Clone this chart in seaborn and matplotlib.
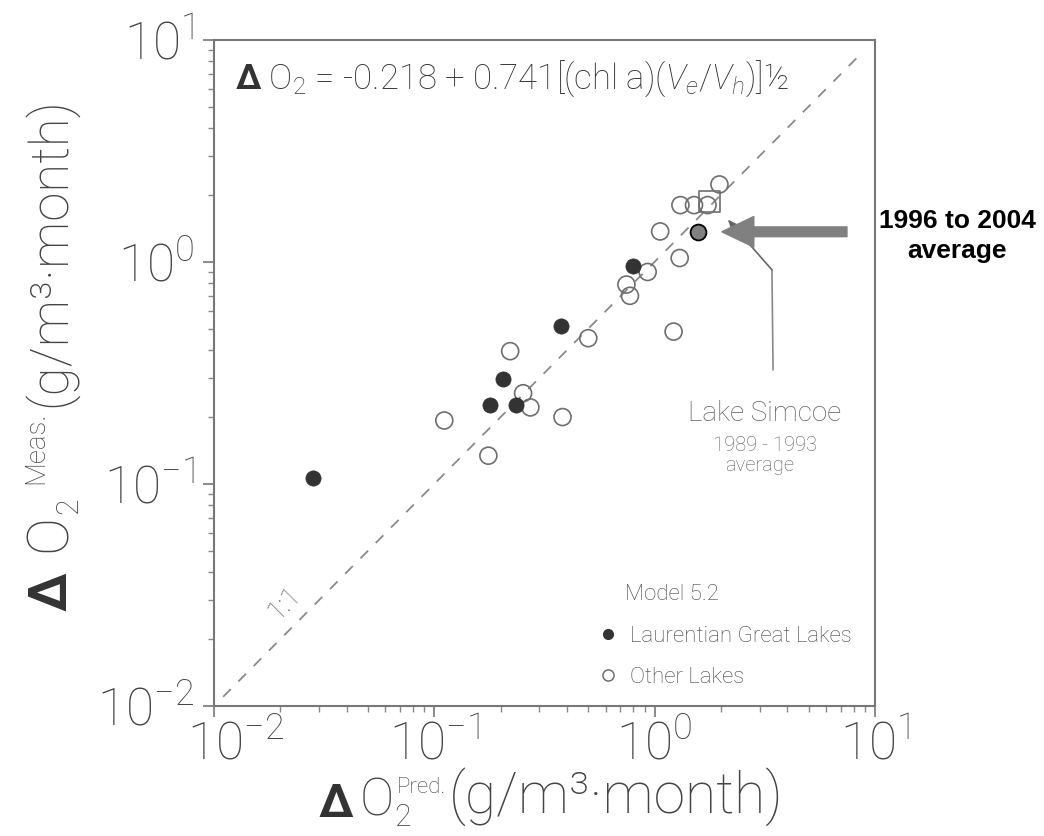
import numpy as np
import pandas as pd
import matplotlib
matplotlib.use('Agg')
import matplotlib.pyplot as plt
import matplotlib.transforms as mtrans
import seaborn as sns
from matplotlib.lines import Line2D
from matplotlib.ticker import FixedLocator, LogLocator

# values (g/m3 per month)
pred_great = [0.028, 0.179, 0.206, 0.236, 0.377, 0.80]
meas_great = [0.106, 0.226, 0.298, 0.226, 0.516, 0.96]

pred_other = [0.111, 0.176, 0.221, 0.253, 0.273, 0.382, 0.50, 0.745, 0.773,
              0.93, 1.06, 1.22, 1.30, 1.31, 1.51, 1.74, 1.97]
meas_other = [0.193, 0.134, 0.396, 0.256, 0.221, 0.200, 0.453, 0.79, 0.703,
              0.90, 1.37, 0.485, 1.04, 1.80, 1.80, 1.80, 2.23]

simcoe_old = [1.77, 1.87]    # 1989 - 1993 average (square)
simcoe_new = [1.58, 1.36]    # 1996 to 2004 average (grey dot)

decades = [0.01, 0.1, 1, 10]
one_to_one = [0.011, 8.7]
eq_text = r'$\mathbf{\Delta}$ O$_2$ = -0.218 + 0.741[(chl a)($V_e$/$V_h$)]½'

# callout path for Lake Simcoe (bottom, elbow, tip) and the big arrow
callout_x = [3.45, 3.41, 2.15]
callout_y = [0.326, 0.92, 1.55]
arrow_tip = (2.02, 1.365)
arrow_tail = (7.47, 1.365)

sns.set_style('ticks')
plt.rcParams['font.family'] = ['Roboto', 'DejaVu Sans']
plt.rcParams['font.weight'] = 'light'
plt.rcParams['mathtext.fontset'] = 'custom'
plt.rcParams['mathtext.rm'] = 'Roboto:light'
plt.rcParams['mathtext.it'] = 'Roboto:italic:light'
plt.rcParams['mathtext.bf'] = 'Roboto:bold'

grey = '#444444'
W, H = 1044, 836
fig = plt.figure(figsize=(W / 100, H / 100), dpi=100)
ax = fig.add_axes([0.205, 0.1555, 0.633, 0.797])

ax.set_xscale('log')
ax.set_yscale('log')
ax.set_xlim(0.01, 10)
ax.set_ylim(0.01, 10)

ax.plot(one_to_one, one_to_one, ls=(0, (6, 6)), color='#8a8a8a', lw=1.3, zorder=1)

great_df = pd.DataFrame({'pred': pred_great, 'meas': meas_great})
other_df = pd.DataFrame({'pred': pred_other, 'meas': meas_other})
sns.scatterplot(data=other_df, x='pred', y='meas', ax=ax, s=150, marker='o',
                facecolor='none', edgecolor='#6e6e6e', linewidth=1.2, zorder=3)
sns.scatterplot(data=great_df, x='pred', y='meas', ax=ax, s=120, marker='o',
                color='#333333', edgecolor='#333333', linewidth=0.5, zorder=3)
ax.scatter([simcoe_old[0]], [simcoe_old[1]], s=230, marker='s', facecolor='none',
           edgecolor='#6e6e6e', linewidth=1.2, zorder=4)
ax.scatter([simcoe_new[0]], [simcoe_new[1]], s=130, marker='o', facecolor='#808080',
           edgecolor='black', linewidth=1.3, zorder=5)
ax.set_xlabel('')
ax.set_ylabel('')

# equation and 1:1 label
ax.text(0.032, 0.972, eq_text, transform=ax.transAxes, fontsize=25, color='#333333',
        va='top', ha='left')
ax.text(0.021, 0.0291, '1:1', rotation=45, fontsize=20, color='#606060',
        ha='center', va='center')

# Lake Simcoe callout
ax.plot(callout_x[:2], callout_y[:2], color='#888888', lw=1.2, zorder=2)
ax.annotate('', xy=(callout_x[2], callout_y[2]), xytext=(callout_x[1], callout_y[1]),
            arrowprops=dict(arrowstyle='-|>,head_length=0.6,head_width=0.25',
                            color='#666666', lw=1.2, shrinkA=0, shrinkB=0,
                            mutation_scale=16))
ax.text(3.17, 0.207, 'Lake Simcoe', fontsize=20, color='#606060', ha='center', va='center')
ax.text(3.17, 0.149, '1989 - 1993', fontsize=14.5, color='#606060', ha='center', va='center')
ax.text(3.0, 0.121, 'average', fontsize=14.5, color='#606060', ha='center', va='center')

# grey arrow for the 1996 to 2004 average
ax.annotate('', xy=arrow_tip, xytext=arrow_tail,
            arrowprops=dict(arrowstyle='simple,head_length=2.3,head_width=2.2,tail_width=0.7',
                            color='#808080', mutation_scale=10, shrinkA=0, shrinkB=0))
fig.text(0.917, 0.718, '1996 to 2004\naverage', fontsize=19, fontweight='bold',
         family='Liberation Sans', ha='center', va='center', linespacing=1.3,
         color='black')

# legend
ax.text(0.622, 0.1667, 'Model 5.2', transform=ax.transAxes, fontsize=16,
        color=grey, ha='left', va='center')
handles = [Line2D([], [], ls='none', marker='o', markersize=7, color='#333333'),
           Line2D([], [], ls='none', marker='o', markersize=8, markerfacecolor='none',
                  markeredgecolor='#6e6e6e', markeredgewidth=1.1)]
leg = ax.legend(handles, ['Laurentian Great Lakes', 'Other Lakes'],
                loc='lower left', bbox_to_anchor=(0.556, 0.004), frameon=False,
                fontsize=16, handletextpad=0.5, handlelength=1.0,
                labelspacing=0.9, borderaxespad=0.3)
for t in leg.get_texts():
    t.set_color(grey)

# axes styling
for side in ['left', 'right', 'top', 'bottom']:
    ax.spines[side].set_color('#777777')
    ax.spines[side].set_linewidth(1.5)
    ax.spines[side].set_visible(True)
ax.xaxis.set_major_locator(FixedLocator(decades))
ax.yaxis.set_major_locator(FixedLocator(decades))
ax.xaxis.set_minor_locator(LogLocator(base=10, subs=np.arange(2, 10), numticks=20))
ax.yaxis.set_minor_locator(LogLocator(base=10, subs=np.arange(2, 10), numticks=20))
ax.tick_params(which='major', direction='out', length=8, width=1.2, color='#777777',
               labelsize=37, labelcolor=grey)
ax.tick_params(axis='y', which='major', pad=6)
ax.tick_params(axis='x', which='major', pad=2)
ax.tick_params(which='minor', direction='out', length=4, width=1.0, color='#888888')

# the 10^-2 label on the x axis sits a little to the right in the original
fig.canvas.draw()
first = ax.xaxis.get_major_ticks()[0].label1
first.set_transform(first.get_transform() +
                    mtrans.ScaledTranslation(0.22, 0, fig.dpi_scale_trans))

# axis titles built from pieces (large Delta O, small super/subscripts)
off = dict(textcoords='offset points', annotation_clip=False)

# x title, left to right
xa = fig.text(318 / W, 1 - 826 / H, r'$\mathbf{\Delta}$', fontsize=34, color='#333333',
              ha='left', va='bottom')
xo = ax.annotate('O', xy=(1, 0), xycoords=xa, xytext=(4, 0), fontsize=37, color=grey,
                 ha='left', va='bottom', **off)
ax.annotate('2', xy=(1, 0), xycoords=xo, xytext=(0, -4), fontsize=22, color=grey,
            ha='left', va='bottom', **off)
xp = ax.annotate('Pred.', xy=(1, 0), xycoords=xo, xytext=(2, 20), fontsize=16, color=grey,
                 ha='left', va='bottom', **off)
ax.annotate('(g/m³·month)', xy=(1, 0), xycoords=(xp, xo), xytext=(2, 0), fontsize=41,
            color=grey, ha='left', va='bottom', **off)

# y title, bottom to top
rot = dict(rotation=90, rotation_mode='anchor')
ya = fig.text(78 / W, 1 - 612 / H, r'$\mathbf{\Delta}$', fontsize=38, color='#333333',
              ha='left', va='bottom', **rot)
yo = ax.annotate('O', xy=(1, 1), xycoords=ya, xytext=(0, 14), fontsize=41, color=grey,
                 ha='left', va='bottom', **rot, **off)
y2 = ax.annotate('2', xy=(1, 1), xycoords=yo, xytext=(4, 0), fontsize=22, color=grey,
                 ha='left', va='bottom', **rot, **off)
yp = ax.annotate('Meas.', xy=(1, 1), xycoords=(yo, y2), xytext=(-21, 10), fontsize=20,
                 color=grey, ha='left', va='bottom', **rot, **off)
ax.annotate('(g/m³·month)', xy=(1, 1), xycoords=(yo, yp), xytext=(0, 3), fontsize=38,
            color=grey, ha='left', va='bottom', **rot, **off)

fig.savefig('out.png', dpi=100)
